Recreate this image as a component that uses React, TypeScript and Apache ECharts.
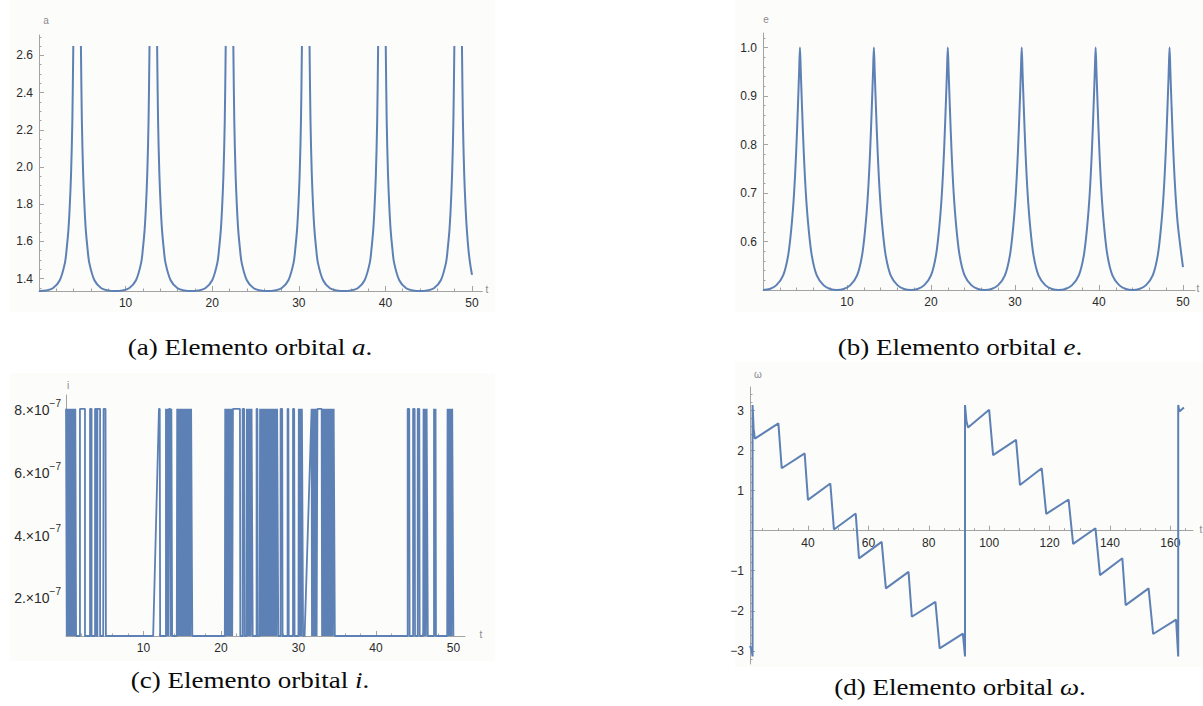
import React, { useEffect, useRef } from "react";
import * as echarts from "echarts";

const BLUE = "#5e81b5";
const AXIS = "#a3a3a3";
const LABEL = "#2a2a2a";

// ---------- (a) semi-major axis a(t) ----------
const tA = [
  0, 0.8, 1.6, 2.4, 3.0, 3.2, 3.4, 3.55, 3.7, 3.85, 3.96, 4.4, 4.84, 4.95, 5.1, 5.25, 5.4, 5.6, 5.8, 6.4, 7.2, 8.0,
  8.8, 9.6, 10.4, 11.2, 11.8, 12.0, 12.2, 12.35, 12.5, 12.65, 12.76, 13.2, 13.64, 13.75, 13.9, 14.05, 14.2, 14.4, 14.6, 15.2, 16.0, 16.8,
  17.6, 18.4, 19.2, 20.0, 20.6, 20.8, 21.0, 21.15, 21.3, 21.45, 21.56, 22.0, 22.44, 22.55, 22.7, 22.85, 23.0, 23.2, 23.4, 24.0, 24.8, 25.6,
  26.4, 27.2, 28.0, 28.8, 29.4, 29.6, 29.8, 29.95, 30.1, 30.25, 30.36, 30.8, 31.24, 31.35, 31.5, 31.65, 31.8, 32.0, 32.2, 32.8, 33.6, 34.4,
  35.2, 36.0, 36.8, 37.6, 38.2, 38.4, 38.6, 38.75, 38.9, 39.05, 39.16, 39.6, 40.04, 40.15, 40.3, 40.45, 40.6, 40.8, 41.0, 41.6, 42.4, 43.2,
  44.0, 44.8, 45.6, 46.4, 47.0, 47.2, 47.4, 47.55, 47.7, 47.85, 47.96, 48.4, 48.84, 48.95, 49.1, 49.25, 49.4, 49.6, 49.8, 50.0,
];
const aVals = [
  1.333, 1.336, 1.348, 1.391, 1.486, 1.563, 1.665, 1.789, 1.961, 2.247, 2.65, null, 2.65, 2.247, 1.961, 1.789, 1.665, 1.563, 1.486, 1.391, 1.348, 1.336,
  1.333, 1.336, 1.348, 1.391, 1.486, 1.563, 1.665, 1.789, 1.961, 2.247, 2.65, null, 2.65, 2.247, 1.961, 1.789, 1.665, 1.563, 1.486, 1.391, 1.348, 1.336,
  1.333, 1.336, 1.348, 1.391, 1.486, 1.563, 1.665, 1.789, 1.961, 2.247, 2.65, null, 2.65, 2.247, 1.961, 1.789, 1.665, 1.563, 1.486, 1.391, 1.348, 1.336,
  1.333, 1.336, 1.348, 1.391, 1.486, 1.563, 1.665, 1.789, 1.961, 2.247, 2.65, null, 2.65, 2.247, 1.961, 1.789, 1.665, 1.563, 1.486, 1.391, 1.348, 1.336,
  1.333, 1.336, 1.348, 1.391, 1.486, 1.563, 1.665, 1.789, 1.961, 2.247, 2.65, null, 2.65, 2.247, 1.961, 1.789, 1.665, 1.563, 1.486, 1.391, 1.348, 1.336,
  1.333, 1.336, 1.348, 1.391, 1.486, 1.563, 1.665, 1.789, 1.961, 2.247, 2.65, null, 2.65, 2.247, 1.961, 1.789, 1.665, 1.55, 1.475, 1.42,
];
const aLabelsX = [10, 20, 30, 40, 50];
const aLabelsY = [1.4, 1.6, 1.8, 2.0, 2.2, 2.4, 2.6];

// ---------- (b) eccentricity e(t) ----------
const tE = [
  0, 0.8, 1.6, 2.4, 3.0, 3.4, 3.7, 3.95, 4.15, 4.3, 4.4, 4.5, 4.65, 4.85, 5.1, 5.4, 5.8, 6.4, 7.2, 8.0,
  8.8, 9.6, 10.4, 11.2, 11.8, 12.2, 12.5, 12.75, 12.95, 13.1, 13.2, 13.3, 13.45, 13.65, 13.9, 14.2, 14.6, 15.2, 16.0, 16.8,
  17.6, 18.4, 19.2, 20.0, 20.6, 21.0, 21.3, 21.55, 21.75, 21.9, 22.0, 22.1, 22.25, 22.45, 22.7, 23.0, 23.4, 24.0, 24.8, 25.6,
  26.4, 27.2, 28.0, 28.8, 29.4, 29.8, 30.1, 30.35, 30.55, 30.7, 30.8, 30.9, 31.05, 31.25, 31.5, 31.8, 32.2, 32.8, 33.6, 34.4,
  35.2, 36.0, 36.8, 37.6, 38.2, 38.6, 38.9, 39.15, 39.35, 39.5, 39.6, 39.7, 39.85, 40.05, 40.3, 40.6, 41.0, 41.6, 42.4, 43.2,
  44.0, 44.8, 45.6, 46.4, 47.0, 47.4, 47.7, 47.95, 48.15, 48.3, 48.4, 48.5, 48.65, 48.85, 49.1, 49.4, 50.0,
];
const eVals = [
  0.5, 0.502, 0.51, 0.53, 0.572, 0.632, 0.7, 0.785, 0.875, 0.95, 1.0, 0.95, 0.875, 0.785, 0.7, 0.632, 0.572, 0.53, 0.51, 0.502,
  0.5, 0.502, 0.51, 0.53, 0.572, 0.632, 0.7, 0.785, 0.875, 0.95, 1.0, 0.95, 0.875, 0.785, 0.7, 0.632, 0.572, 0.53, 0.51, 0.502,
  0.5, 0.502, 0.51, 0.53, 0.572, 0.632, 0.7, 0.785, 0.875, 0.95, 1.0, 0.95, 0.875, 0.785, 0.7, 0.632, 0.572, 0.53, 0.51, 0.502,
  0.5, 0.502, 0.51, 0.53, 0.572, 0.632, 0.7, 0.785, 0.875, 0.95, 1.0, 0.95, 0.875, 0.785, 0.7, 0.632, 0.572, 0.53, 0.51, 0.502,
  0.5, 0.502, 0.51, 0.53, 0.572, 0.632, 0.7, 0.785, 0.875, 0.95, 1.0, 0.95, 0.875, 0.785, 0.7, 0.632, 0.572, 0.53, 0.51, 0.502,
  0.5, 0.502, 0.51, 0.53, 0.572, 0.632, 0.7, 0.785, 0.875, 0.95, 1.0, 0.95, 0.875, 0.785, 0.7, 0.632, 0.547,
];
const eLabelsX = [10, 20, 30, 40, 50];
const eLabelsY = [0.6, 0.7, 0.8, 0.9, 1.0];

// ---------- (c) inclination i(t): two numerical-noise levels ----------
const I_HI = 8.05e-7;
const I_LO = 0.8e-7;
const iPts: [number, number][] = [
  [0, I_HI], [0.1, I_LO], [0.2, I_HI], [0.3, I_LO], [0.4, I_HI], [0.5, I_LO], [0.6, I_HI], [0.7, I_LO],
  [0.8, I_HI], [0.9, I_LO], [1.0, I_HI], [1.1, I_LO], [1.2, I_HI], [1.3, I_LO],
  [1.8, I_LO], [1.8, I_HI], [2.45, I_HI], [2.45, I_LO],
  [3.1, I_LO], [3.1, I_HI], [3.3, I_HI], [3.3, I_LO],
  [3.75, I_LO], [3.75, I_HI], [3.95, I_HI], [3.95, I_LO], [4.05, I_LO], [4.05, I_HI], [4.4, I_HI], [4.4, I_LO],
  [4.8, I_LO], [4.85, I_HI], [5.1, I_HI], [5.15, I_LO],
  [11.25, I_LO], [12.0, I_HI], [12.1, I_HI], [12.15, I_LO],
  [12.9, I_LO], [12.9, I_HI], [13.0, I_LO], [13.1, I_HI], [13.2, I_LO], [13.3, I_HI], [13.45, I_HI], [13.5, I_LO], [13.6, I_HI], [13.7, I_LO],
  [14.3, I_LO], [14.35, I_HI], [14.45, I_LO], [14.55, I_HI], [14.65, I_LO], [14.75, I_HI], [14.85, I_LO], [14.95, I_HI],
  [15.05, I_LO], [15.15, I_HI], [15.25, I_LO], [15.35, I_HI], [15.45, I_LO], [15.55, I_HI], [15.65, I_LO], [15.75, I_HI],
  [15.85, I_LO], [15.95, I_HI], [16.05, I_LO], [16.15, I_HI], [16.3, I_LO],
  [20.5, I_LO], [20.55, I_HI], [20.65, I_LO], [20.75, I_HI], [20.85, I_LO], [20.95, I_HI], [21.05, I_LO], [21.15, I_HI],
  [21.25, I_LO], [21.35, I_HI], [21.45, I_LO], [21.55, I_HI], [22.45, I_HI], [22.5, I_LO],
  [22.8, I_LO], [22.8, I_HI], [23.0, I_HI], [23.05, I_LO],
  [23.3, I_LO], [23.35, I_HI], [23.45, I_LO], [23.55, I_HI], [23.65, I_LO], [23.75, I_HI], [23.85, I_LO], [23.95, I_HI], [24.1, I_LO],
  [24.6, I_LO], [24.6, I_HI], [24.7, I_HI], [24.75, I_LO],
  [25.0, I_LO], [25.05, I_HI], [25.15, I_LO], [25.25, I_HI], [25.35, I_LO], [25.45, I_HI], [25.55, I_LO], [25.65, I_HI],
  [25.75, I_LO], [25.85, I_HI], [25.95, I_LO], [26.05, I_HI], [26.15, I_LO], [26.25, I_HI], [26.35, I_LO], [26.45, I_HI],
  [26.55, I_LO], [26.65, I_HI], [26.75, I_LO], [26.85, I_HI], [26.95, I_LO], [27.05, I_HI], [27.15, I_LO], [27.25, I_HI], [27.4, I_LO],
  [27.7, I_LO], [27.7, I_HI], [27.9, I_HI], [27.95, I_LO],
  [28.6, I_LO], [28.6, I_HI], [28.7, I_HI], [28.75, I_LO],
  [29.3, I_LO], [29.3, I_HI], [29.45, I_HI], [29.5, I_LO],
  [30.0, I_LO], [30.05, I_HI], [30.15, I_LO], [30.25, I_HI], [30.35, I_LO], [30.45, I_HI], [30.6, I_LO],
  [30.8, I_LO], [31.7, I_HI],
  [31.75, I_LO], [31.85, I_HI], [31.95, I_LO], [32.05, I_HI], [32.15, I_LO], [32.25, I_HI], [32.35, I_LO], [32.45, I_HI], [33.0, I_HI],
  [33.05, I_LO], [33.15, I_HI], [33.25, I_LO], [33.35, I_HI], [33.45, I_LO], [33.55, I_HI], [33.65, I_LO], [33.75, I_HI],
  [33.85, I_LO], [33.95, I_HI], [34.05, I_LO], [34.15, I_HI], [34.25, I_LO], [34.35, I_HI], [34.45, I_LO], [34.55, I_HI], [34.7, I_LO],
  [44.1, I_LO], [44.1, I_HI], [44.3, I_HI], [44.35, I_LO],
  [44.8, I_LO], [44.8, I_HI], [45.0, I_HI], [45.05, I_LO],
  [45.4, I_LO], [45.4, I_HI], [45.6, I_HI], [45.65, I_LO],
  [46.1, I_LO], [46.15, I_HI], [46.25, I_LO], [46.35, I_HI], [46.45, I_LO], [46.55, I_HI], [46.7, I_LO],
  [47.5, I_LO], [47.5, I_HI], [47.6, I_LO], [47.7, I_HI], [47.75, I_LO],
  [49.2, I_LO], [49.25, I_HI], [49.35, I_LO], [49.45, I_HI], [49.55, I_LO], [49.65, I_HI], [49.75, I_LO], [49.85, I_HI], [50.0, I_LO],
];
const iLabelsX = [10, 20, 30, 40, 50];
const iLabelsY = [2e-7, 4e-7, 6e-7, 8e-7];

// ---------- (d) argument of pericentre omega(t) ----------
const wPts: [number, number][] = [
  [20.8, -2.88], [21.3, -2.97], [21.65, -3.14], [21.65, 3.14], [22.0, 2.55], [22.4, 2.3],
  [30.2, 2.68], [31.3, 1.56],
  [38.9, 1.93], [40.0, 0.77],
  [47.4, 1.18], [48.6, 0.03],
  [55.8, 0.43], [56.9, -0.69],
  [64.4, -0.28], [65.8, -1.44],
  [73.3, -1.03], [74.4, -2.15],
  [82.2, -1.78], [83.6, -2.94],
  [91.3, -2.57], [92.0, -3.14], [92.0, 3.14], [92.5, 2.72], [93.0, 2.58],
  [100.0, 3.02], [101.3, 1.89],
  [108.9, 2.27], [110.2, 1.14],
  [117.4, 1.56], [118.9, 0.42],
  [126.3, 0.78], [127.8, -0.33],
  [135.2, 0.06], [136.7, -1.11],
  [144.1, -0.69], [145.2, -1.86],
  [152.8, -1.44], [154.3, -2.58],
  [161.9, -2.22], [162.6, -3.14], [162.6, 3.14], [163.0, 2.98], [164.5, 3.08],
];
const wLabelsX = [40, 60, 80, 100, 120, 140, 160];
const wLabelsY = [-3, -2, -1, 1, 2, 3];

// ---------- helpers ----------
function range(a: number, b: number, step: number): number[] {
  const out: number[] = [];
  for (let k = 0; a + k * step <= b + 1e-12; k++) out.push(+(a + k * step).toPrecision(10));
  return out;
}

const SANS = "Liberation Sans, Arial, sans-serif";
const labelFont = { color: LABEL, fontSize: 12, fontFamily: SANS };

function axisPair(
  kind: "x" | "y",
  gridIndex: number,
  min: number,
  max: number,
  labels: number[],
  minor: number[],
  formatter: any,
  extra: any = {}
) {
  const common: any = {
    type: "value",
    gridIndex,
    min,
    max,
    position: kind === "x" ? "bottom" : "left",
    offset: extra.offset ?? 0,
    splitLine: { show: false },
  };
  const main = {
    ...common,
    axisLine: { show: true, onZero: false, lineStyle: { color: AXIS, width: 1 } },
    axisTick: { show: true, inside: true, length: 5, customValues: labels, lineStyle: { color: AXIS, width: 1 } },
    axisLabel: {
      show: true,
      customValues: labels,
      formatter,
      margin: extra.margin ?? 6,
      ...labelFont,
      ...(extra.labelSize ? { fontSize: extra.labelSize } : {}),
      ...(extra.rich ? { rich: extra.rich } : {}),
    },
  };
  const minorAxis = {
    ...common,
    axisLine: { show: false, onZero: false },
    axisTick: { show: true, inside: true, length: 2.5, customValues: minor, lineStyle: { color: AXIS, width: 1 } },
    axisLabel: { show: false },
  };
  return [main, minorAxis];
}

const fmtInt = (v: number) => String(Math.round(v));
const fmt1 = (v: number) => v.toFixed(1);
const fmtSigned = (v: number) => (v < 0 ? "\u2212" + Math.abs(v) : String(v));
const fmtSci = (v: number) => `{m|${Math.round(v * 1e7)}.\u00d710}{s|\u22127}`;

const notIn = (arr: number[], step: number) => arr.filter((v) => Math.abs(v / step - Math.round(v / step)) > 1e-6);

function buildOption() {
  const D_YMIN = -3.33;
  const D_YMAX = 3.59;
  const grids = [
    { left: 39, top: 35, width: 443.4, height: 256 },
    { left: 763, top: 33, width: 432, height: 257 },
    { left: 66, top: 395, width: 399, height: 241 },
    { left: 750, top: 387, width: 443, height: 277 },
  ];
  // x axis of (d) crosses the vertical axis at omega = 0
  const dOffset = -((0 - D_YMIN) / (D_YMAX - D_YMIN)) * grids[3].height;

  const xA = axisPair("x", 0, 0, 51.2, aLabelsX, notIn(range(2, 50, 2), 10), fmtInt);
  const yA = axisPair("y", 0, 1.3333, 2.7097, aLabelsY, notIn(range(1.35, 2.7, 0.05), 0.2), fmt1);
  const xB = axisPair("x", 1, 0, 51.43, eLabelsX, notIn(range(2, 50, 2), 10), fmtInt);
  const yB = axisPair("y", 1, 0.5, 1.03, eLabelsY, notIn(range(0.52, 1.02, 0.02), 0.1), fmt1);
  const xC = axisPair("x", 2, 0, 51.5, iLabelsX, notIn(range(2, 50, 2), 10), fmtInt);
  const yC = axisPair("y", 2, I_LO, 8.49e-7, iLabelsY, notIn(range(1e-7, 8e-7, 0.5e-7), 2e-7), fmtSci, {
    margin: 5,
    labelSize: 14,
    rich: {
      m: { fontSize: 14, color: LABEL, fontFamily: SANS, lineHeight: 24 },
      s: { fontSize: 10, color: LABEL, fontFamily: SANS, lineHeight: 11, verticalAlign: "top" },
    },
  });
  const xD = axisPair("x", 3, 20.8, 167.5, wLabelsX, notIn(range(25, 165, 5), 20), fmtInt, { offset: dOffset });
  const yD = axisPair("y", 3, D_YMIN, D_YMAX, wLabelsY, notIn(range(-3.2, 3.4, 0.2), 1), fmtSigned);

  const lineBase = {
    type: "line",
    showSymbol: false,
    symbol: "none",
    connectNulls: false,
    animation: false,
    silent: true,
  };

  const serif = "Liberation Serif, Times New Roman, serif";
  const caption = (x: number, y: number, pre: string, v: string) => ({
    type: "text",
    x,
    y,
    scaleX: 1.15,
    style: {
      text: `{n|${pre}}{i|${v}}{n|.}`,
      align: "center",
      verticalAlign: "middle",
      rich: {
        n: { fontSize: 23.5, fontFamily: serif, fill: "#0a0a0a", color: "#0a0a0a" },
        i: { fontSize: 23.5, fontFamily: serif, fontStyle: "italic", fill: "#0a0a0a", color: "#0a0a0a" },
      },
    },
  });
  const axName = (x: number, y: number, s: string) => ({
    type: "text",
    x,
    y,
    style: {
      text: s,
      fontSize: 10,
      fontFamily: SANS,
      fill: "#8a8a8a",
      align: "center",
      verticalAlign: "middle",
    },
  });
  const bg = (x: number, y: number, w: number, h: number) => ({
    type: "rect",
    z: -10,
    silent: true,
    shape: { x, y, width: w, height: h },
    style: { fill: "#fcfcfa" },
  });

  return {
    animation: false,
    backgroundColor: "#ffffff",
    grid: grids.map((g) => ({ ...g, outerBoundsMode: "none", containLabel: false })),
    xAxis: [...xA, ...xB, ...xC, ...xD],
    yAxis: [...yA, ...yB, ...yC, ...yD],
    series: [
      {
        ...lineBase,
        name: "a",
        xAxisIndex: 0,
        yAxisIndex: 0,
        smooth: 0.3,
        data: tA.map((t, k) => [t, aVals[k]]),
        lineStyle: { color: BLUE, width: 2 },
      },
      {
        ...lineBase,
        name: "e",
        xAxisIndex: 2,
        yAxisIndex: 2,
        smooth: 0.3,
        data: tE.map((t, k) => [t, eVals[k]]),
        lineStyle: { color: BLUE, width: 2 },
      },
      {
        ...lineBase,
        name: "i",
        xAxisIndex: 4,
        yAxisIndex: 4,
        data: iPts,
        lineStyle: { color: BLUE, width: 1.8 },
      },
      {
        ...lineBase,
        name: "omega",
        xAxisIndex: 6,
        yAxisIndex: 6,
        data: wPts,
        lineStyle: { color: BLUE, width: 2 },
      },
    ],
    graphic: {
      elements: [
        bg(10, 0, 485, 312),
        bg(735, 0, 468, 312),
        bg(10, 373, 485, 288),
        bg(735, 362, 468, 305),
        axName(46, 20, "a"),
        axName(766, 19, "e"),
        axName(68, 385, "i"),
        axName(758, 374, "\u03c9"),
        axName(487, 289, "t"),
        axName(1198, 288, "t"),
        axName(481, 634, "t"),
        axName(1201, 529, "t"),
        caption(250, 347, "(a) Elemento orbital ", "a"),
        caption(960, 347, "(b) Elemento orbital ", "e"),
        caption(250, 680, "(c) Elemento orbital ", "i"),
        caption(960, 687, "(d) Elemento orbital ", "\u03c9"),
      ],
    },
  };
}

export default function App() {
  const ref = useRef<HTMLDivElement>(null);
  useEffect(() => {
    if (!ref.current) return;
    const chart = echarts.init(ref.current, null, { renderer: "svg" });
    chart.setOption(buildOption() as any);
    return () => chart.dispose();
  }, []);
  return (
    <div
      ref={ref}
      style={{ position: "absolute", left: 0, top: 0, width: 1203, height: 706, background: "#fff" }}
    />
  );
}
